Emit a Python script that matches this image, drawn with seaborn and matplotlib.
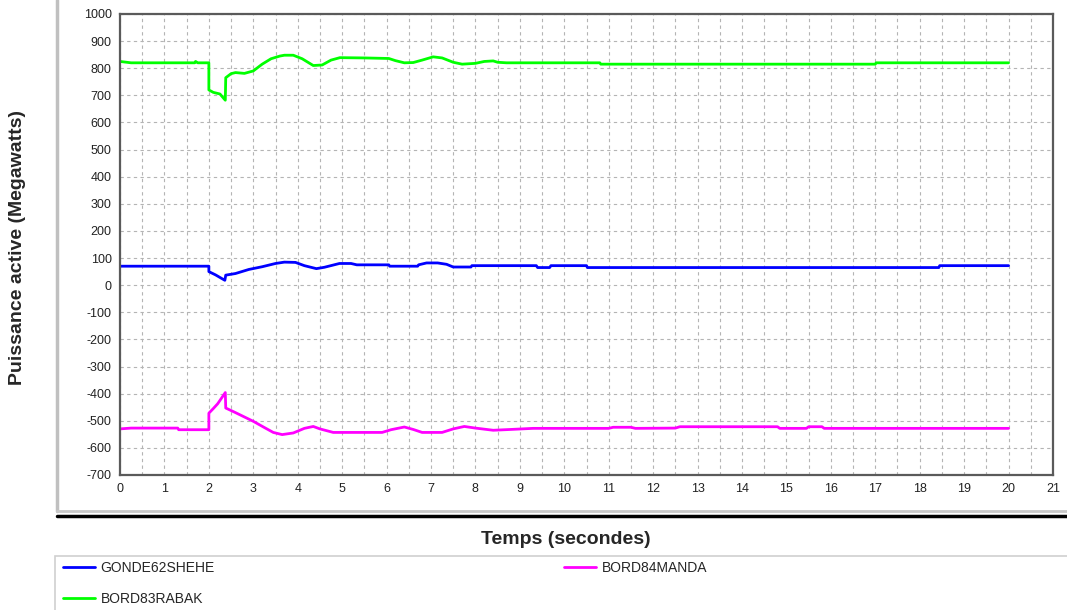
import pandas as pd
import matplotlib.pyplot as plt
import seaborn as sns
from matplotlib.lines import Line2D
from matplotlib.patches import Rectangle
from matplotlib.ticker import MultipleLocator

# Data (time in s, power in MW)
gonde_t = [0, 2.0, 2.0, 2.15, 2.36, 2.38, 2.6, 2.9, 3.2, 3.5, 3.7, 3.95, 4.15, 4.42, 4.6, 4.94,
           5.2, 5.33, 6.05, 6.07, 6.7, 6.72, 6.9, 7.15, 7.35, 7.5, 7.9, 7.92, 9.37, 9.4, 9.67, 9.7,
           10.5, 10.52, 18.43, 18.45, 20]
gonde_p = [70, 70, 50, 38, 18, 37, 43, 58, 68, 80, 85, 84, 72, 61, 66, 80,
           80, 75, 75, 70, 70, 75, 82, 82, 77, 67, 67, 72, 72, 65, 65, 72,
           72, 65, 65, 72, 72]

rabak_t = [0, 0.25, 1.68, 1.7, 1.75, 2.0, 2.0, 2.1, 2.25, 2.37, 2.38, 2.5, 2.6, 2.8, 3.0, 3.2,
           3.4, 3.6, 3.7, 3.9, 4.1, 4.35, 4.55, 4.75, 4.95, 5.5, 6.05, 6.2, 6.4, 6.6, 6.8, 7.05,
           7.25, 7.5, 7.7, 8.0, 8.2, 8.4, 8.5, 8.7, 10.8, 10.82, 17.0, 17.02, 20]
rabak_p = [825, 820, 820, 825, 820, 820, 720, 711, 705, 682, 765, 780, 784, 781, 790, 815,
           835, 845, 848, 848, 835, 810, 812, 830, 839, 838, 836, 828, 820, 821, 830, 842,
           838, 822, 815, 818, 825, 827, 822, 820, 820, 815, 815, 820, 820]

manda_t = [0, 0.25, 1.3, 1.32, 2.0, 2.0, 2.1, 2.2, 2.37, 2.38, 2.6, 3.0, 3.25, 3.45, 3.65, 3.9,
           4.15, 4.35, 4.5, 4.8, 5.9, 6.1, 6.4, 6.6, 6.8, 7.25, 7.5, 7.75, 8.0, 8.4, 8.8, 9.3,
           11.0, 11.1, 11.5, 11.6, 12.5, 12.6, 14.8, 14.85, 15.45, 15.5, 15.8, 15.85, 20]
manda_p = [-530, -527, -527, -533, -533, -472, -455, -437, -396, -453, -470, -502, -525, -543, -551, -545,
           -528, -521, -530, -543, -543, -533, -523, -532, -543, -543, -530, -521, -527, -535, -532, -528,
           -528, -524, -524, -528, -527, -522, -522, -528, -528, -522, -522, -528, -528]

x_ticks = list(range(0, 22))
y_ticks = list(range(-700, 1001, 100))

sns.set_style("white")
plt.rcParams['font.family'] = ['Liberation Sans', 'DejaVu Sans']
plt.rcParams['axes.unicode_minus'] = False

fig = plt.figure(figsize=(10.67, 6.10), dpi=100)
ax = fig.add_axes([120 / 1067, 1 - 475 / 610, 933 / 1067, 461 / 610])

series = [
    ("GONDE62SHEHE", gonde_t, gonde_p, "#0000ff"),
    ("BORD83RABAK", rabak_t, rabak_p, "#00ff00"),
    ("BORD84MANDA", manda_t, manda_p, "#ff00ff"),
]
for name, t, p, col in series:
    df = pd.DataFrame({"t": t, "p": p})
    sns.lineplot(data=df, x="t", y="p", estimator=None, sort=False,
                 color=col, linewidth=2.0, ax=ax, label=name, legend=False)

ax.set_xlim(0, 21)
ax.set_ylim(-700, 1000)
ax.set_xticks(x_ticks)
ax.set_yticks(y_ticks)
ax.xaxis.set_minor_locator(MultipleLocator(0.5))
ax.grid(which="major", axis="y", color="#b4b4b4", linestyle=(0, (3, 3)), linewidth=0.8)
ax.grid(which="both", axis="x", color="#b4b4b4", linestyle=(0, (3, 3)), linewidth=0.8)
ax.set_axisbelow(True)
ax.tick_params(axis="both", which="both", direction="in", length=3, color="#555555",
               labelsize=9, labelcolor="#222222", pad=6)
for s in ax.spines.values():
    s.set_color("#5a5a5a")
    s.set_linewidth(1.6)
ax.set_xlabel("")
ax.set_ylabel("")

# Axis titles placed like the original panel
fig.text(18 / 1067, 1 - 247 / 610, "Puissance active (Megawatts)", rotation=90,
         ha="center", va="center", fontsize=14, fontweight="bold")
fig.text(566 / 1067, 1 - 539 / 610, "Temps (secondes)",
         ha="center", va="center", fontsize=14, fontweight="bold")

# Panel frame lines
fig.add_artist(Line2D([57 / 1067, 57 / 1067], [1 - 511 / 610, 1], transform=fig.transFigure,
                      color="#c0c0c0", linewidth=2.5))
fig.add_artist(Line2D([57 / 1067, 1], [1 - 511 / 610, 1 - 511 / 610], transform=fig.transFigure,
                      color="#c8c8c8", linewidth=2))
fig.add_artist(Line2D([57 / 1067, 1], [1 - 516 / 610, 1 - 516 / 610], transform=fig.transFigure,
                      color="black", linewidth=2.5))
fig.add_artist(Rectangle((55 / 1067, -0.01), 1.0, (610 - 556) / 610 + 0.01,
                         transform=fig.transFigure, facecolor="white",
                         edgecolor="#d0d0d0", linewidth=1.2))

# Legend, two columns as in the original
handles = {name: Line2D([], [], color=col, linewidth=2.0) for name, _, _, col in series}
leg_kw = dict(frameon=False, fontsize=10, handlelength=2.3, handletextpad=0.4,
              labelspacing=1.2, borderpad=0, borderaxespad=0, loc="upper left")
fig.legend([handles["GONDE62SHEHE"], handles["BORD83RABAK"]], ["GONDE62SHEHE", "BORD83RABAK"],
           bbox_to_anchor=(63 / 1067, 1 - 561 / 610), **leg_kw)
fig.legend([handles["BORD84MANDA"]], ["BORD84MANDA"],
           bbox_to_anchor=(564 / 1067, 1 - 561 / 610), **leg_kw)

fig.savefig("out.png", dpi=100)
